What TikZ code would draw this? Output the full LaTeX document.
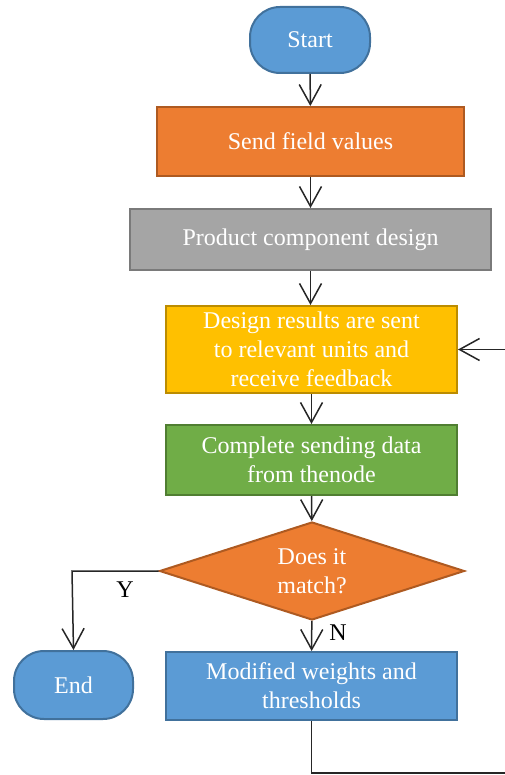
\documentclass[tikz,border=0pt]{standalone}
\usepackage{fontspec}
\setmainfont{Liberation Serif}
\usetikzlibrary{shapes.geometric,arrows.meta}
\definecolor{bfill}{HTML}{5B9BD5}\definecolor{bdraw}{HTML}{41719C}
\definecolor{ofill}{HTML}{ED7D31}\definecolor{odraw}{HTML}{AE5A21}
\definecolor{gfill}{HTML}{A5A5A5}\definecolor{gdraw}{HTML}{7A7A7A}
\definecolor{yfill}{HTML}{FFC000}\definecolor{ydraw}{HTML}{BC8C00}
\definecolor{grfill}{HTML}{70AD47}\definecolor{grdraw}{HTML}{507E32}
\definecolor{linec}{HTML}{262626}
\tikzset{
  box/.style={draw, line width=1pt, text=white, align=center, inner sep=0pt,
    font=\fontsize{12}{14.5}\selectfont},
  term/.style={box, rounded corners=15pt},
  conn/.style={draw=linec, line width=0.75pt, -{Straight Barb[length=10pt,width=11pt]}},
  lbl/.style={font=\fontsize{12}{14.5}\selectfont, text=black, inner sep=0pt}
}
\begin{document}
\begin{tikzpicture}[x=0.5pt,y=-0.5pt]
\useasboundingbox (0,0) rectangle (504,775);
\node[term, fill=bfill, draw=bdraw, minimum width=60pt, minimum height=33pt] (start) at (310,40) {Start};
\node[box, fill=ofill, draw=odraw, minimum width=153.5pt, minimum height=34.5pt] (send) at (310.5,141.5) {Send field values};
\node[box, fill=gfill, draw=gdraw, minimum width=180.5pt, minimum height=30.5pt] (prod) at (310.5,239.5) {Product component design};
\node[box, fill=yfill, draw=ydraw, minimum width=145.5pt, minimum height=43.5pt] (res) at (311.5,349.5) {Design results are sent\\to relevant units and\\receive feedback};
\node[box, fill=grfill, draw=grdraw, minimum width=145.5pt, minimum height=35pt] (comp) at (311.5,460) {Complete sending data\\from thenode};
\node[diamond, box, fill=ofill, draw=odraw, minimum width=152.5pt, minimum height=49pt] (dec) at (312,571) {};
\node[box, draw=none] (dectext) at (dec.center) {Does it\\match?};
\node[term, fill=bfill, draw=bdraw, minimum width=59.5pt, minimum height=34pt] (end) at (73.5,685) {End};
\node[box, fill=bfill, draw=bdraw, minimum width=145.5pt, minimum height=34pt] (mod) at (311.5,686) {Modified weights and\\thresholds};
\coordinate (yc) at (72,571);
\coordinate (b1) at (311.5,773);
\coordinate (b2) at (506,773);
\coordinate (b3) at (506,349.5);
\path[conn] (start) -- (send);
\path[conn] (send.south) -- (send.south |- prod.north);
\path[conn] (prod.south) -- (prod.south |- res.north);
\path[conn] (res) -- (comp);
\path[conn] (comp) -- (dec);
\path[conn] (dec) -- (mod);
\path[conn] (dec.west) -- (yc) -- (end.north);
\path[conn] (mod.south) -- (b1) -- (b2) -- (b3) -- (res.east);
\node[lbl] (ylab) at (125,590) {Y};
\node[lbl] (nlab) at (338,633) {N};
\end{tikzpicture}
\end{document}
